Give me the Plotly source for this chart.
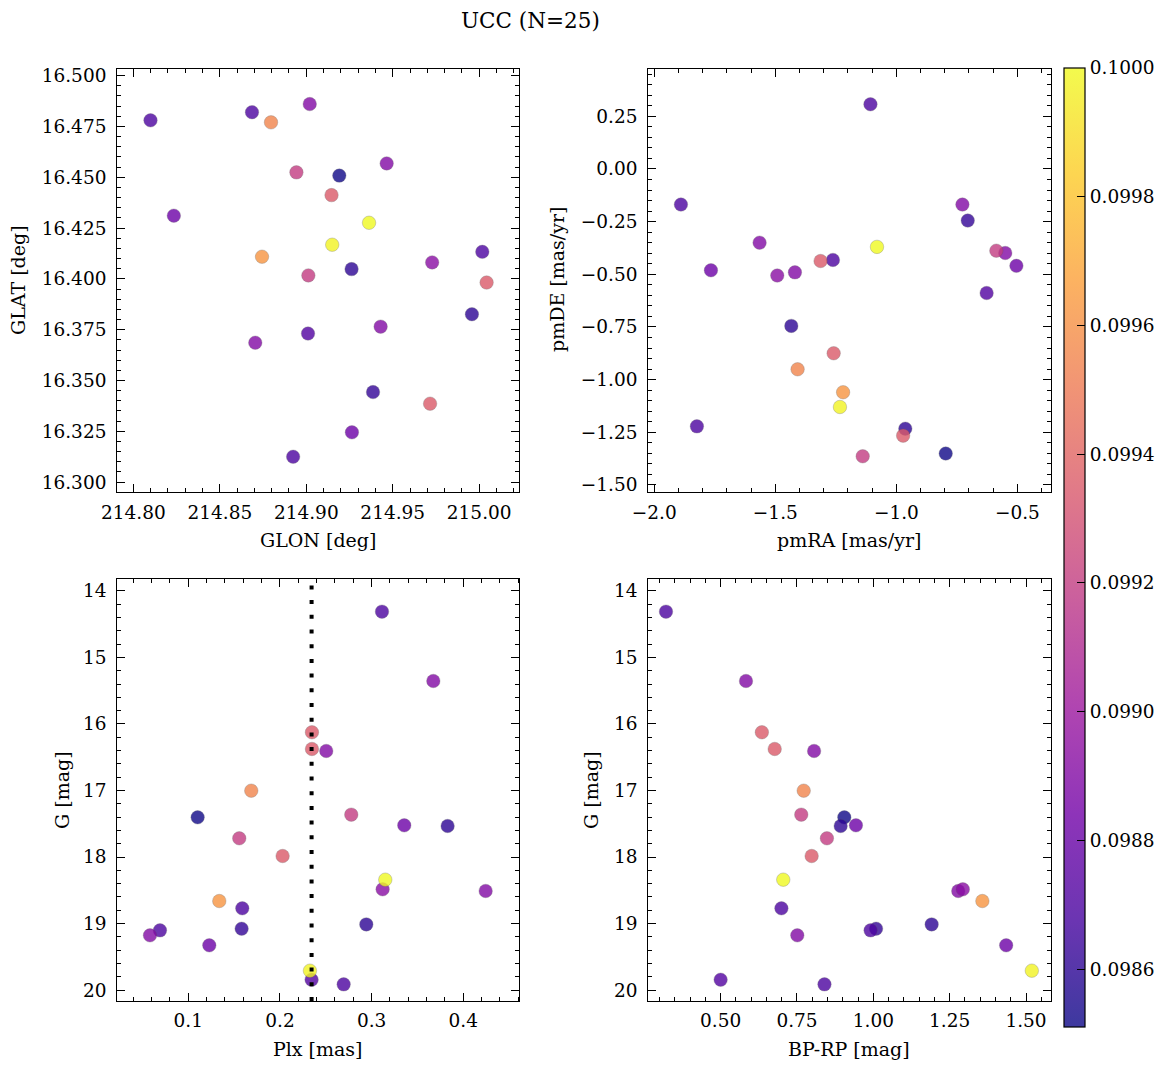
import numpy as np
import plotly.graph_objects as go

# ---------------- data (one entry per star) ----------------
glon = [214.8099, 214.9020, 214.9146, 215.0043, 214.9465, 214.8796, 214.9191, 214.8943,
        214.8234, 214.9262, 214.9012, 214.9716, 214.9363, 214.9728, 214.9430, 214.8744,
        214.8686, 214.9958, 215.0018, 214.8705, 214.9386, 214.9264, 214.9150, 214.9010,
        214.8924]
glat = [16.4780, 16.4860, 16.4412, 16.3982, 16.4568, 16.4770, 16.4508, 16.4524,
        16.4311, 16.4048, 16.4017, 16.3386, 16.4276, 16.4081, 16.3765, 16.4109,
        16.4820, 16.3826, 16.4133, 16.3686, 16.3443, 16.3245, 16.4168, 16.3731,
        16.3125]
pmra = [-1.107, -0.727, -1.313, -1.259, -1.565, -1.408, -0.796, -0.587,
        -1.766, -1.434, -1.139, -0.972, -1.080, -1.492, -1.419, -1.220,
        -1.890, -0.963, -1.262, -0.550, -0.705, -0.504, -1.233, -0.627,
        -1.824]
pmde = [0.307, -0.169, -0.437, -0.875, -0.350, -0.951, -1.351, -0.388,
        -0.481, -0.745, -1.364, -1.266, -0.370, -0.506, -0.491, -1.060,
        -0.169, -1.233, -0.432, -0.399, -0.245, -0.460, -1.130, -0.589,
        -1.222]
plx = [0.3113, 0.3673, 0.2349, 0.2349, 0.2505, 0.1687, 0.1102, 0.2778,
       0.3356, 0.3829, 0.1556, 0.2029, 0.3149, 0.3120, 0.4244, 0.1338,
       0.1589, 0.2942, 0.0691, 0.0582, 0.1582, 0.1229, 0.2327, 0.2345,
       0.2695]
gmag = [14.311, 15.354, 16.125, 16.376, 16.406, 17.003, 17.404, 17.363,
        17.524, 17.534, 17.719, 17.985, 18.341, 18.486, 18.511, 18.662,
        18.772, 19.013, 19.103, 19.178, 19.078, 19.328, 19.709, 19.845,
        19.915]
bprp = [0.321, 0.583, 0.635, 0.677, 0.806, 0.772, 0.905, 0.764,
        0.943, 0.893, 0.848, 0.798, 0.705, 1.293, 1.278, 1.357,
        0.699, 1.191, 0.991, 0.751, 1.009, 1.435, 1.519, 0.500,
        0.840]
prob = [0.09870, 0.09890, 0.09935, 0.09935, 0.09890, 0.09955, 0.09852, 0.09920,
        0.09882, 0.09860, 0.09920, 0.09935, 0.10000, 0.09893, 0.09890, 0.09962,
        0.09870, 0.09860, 0.09870, 0.09890, 0.09862, 0.09882, 0.09998, 0.09872,
        0.09870]
plx_median = 0.2345
n_members = 25

cb_ticks = [0.0986, 0.0988, 0.0990, 0.0992, 0.0994, 0.0996, 0.0998, 0.1000]
cmin, cmax = 0.09851, 0.1000

# ---------------- styling ----------------
W, H = 1173, 1068
OFF = 8          # page body margin of the html page
FONT = "DejaVu Serif"
FS = 18.5        # tick labels
FS_LAB = 19      # axis titles
FS_TTL = 21.5    # suptitle

plasma = ['#0d0887', '#46039f', '#7201a8', '#9c179e', '#bd3786',
          '#d8576b', '#ed7953', '#fb9f3a', '#fdca26', '#f0f921']

def fade(hexc, a=0.8):
    r, g, b = int(hexc[1:3], 16), int(hexc[3:5], 16), int(hexc[5:7], 16)
    f = lambda c: int(round(c * a + 255 * (1 - a)))
    return f"rgb({f(r)},{f(g)},{f(b)})"

plasma_scale = [[i / (len(plasma) - 1), c] for i, c in enumerate(plasma)]
faded_scale = [[i / (len(plasma) - 1), fade(c)] for i, c in enumerate(plasma)]

order = np.argsort(np.array(prob), kind="stable")
def srt(a):
    return np.array(a)[order]

def fx(p):
    return (p - OFF) / W

def fy(p):
    return 1 - (p - OFF) / H

# panel geometry in reference pixels (left, right, top, bottom)
px_panels = {
    1: (117.3, 519.3, 69.3, 492.3),
    2: (648.3, 1050.7, 69.3, 492.3),
    3: (117.3, 519.3, 579.3, 1001.0),
    4: (648.3, 1050.7, 579.3, 1001.0),
}

fig = go.Figure()

panels = [
    (1, glon, glat),
    (2, pmra, pmde),
    (3, plx, gmag),
    (4, bprp, gmag),
]
for k, xs, ys in panels:
    sfx = "" if k == 1 else str(k)
    fig.add_trace(go.Scatter(
        x=srt(xs), y=srt(ys), mode="markers",
        xaxis="x" + sfx, yaxis="y" + sfx,
        marker=dict(size=13.5, color=srt(prob), colorscale=plasma_scale,
                    cmin=cmin, cmax=cmax, opacity=0.8,
                    line=dict(color="rgba(90,90,90,0.55)", width=0.6)),
        showlegend=False, hoverinfo="x+y",
    ))

# colorbar carrier (invisible marker, faded palette like the alpha'd scatter)
fig.add_trace(go.Scatter(
    x=[glon[0]], y=[glat[0]], mode="markers", xaxis="x", yaxis="y",
    marker=dict(size=1, opacity=0, color=[prob[0]], colorscale=faded_scale,
                cmin=cmin, cmax=cmax, showscale=True,
                colorbar=dict(
                    x=fx(1064), xanchor="left", xref="paper",
                    y=fy((68 + 1027) / 2), yanchor="middle", yref="paper",
                    lenmode="pixels", len=959, thicknessmode="pixels", thickness=21,
                    outlinecolor="black", outlinewidth=1.2,
                    tickvals=cb_ticks, tickformat=".4f", tickprefix="\u00a0\u00a0",
                    ticks="inside", ticklen=8, tickcolor="black",
                    tickfont=dict(family=FONT, size=FS, color="black"),
                    xpad=0, ypad=0,
                )),
    showlegend=False, hoverinfo="skip",
))

def axis(domain, rng, dtick, minor_dtick, fmt, standoff, reverse=False):
    r = list(rng)[::-1] if reverse else list(rng)
    return dict(
        domain=domain, range=r, autorange=False, dtick=dtick, tick0=0,
        tickformat=fmt, showgrid=False, zeroline=False,
        showline=True, linecolor="black", linewidth=1.3, mirror="allticks",
        ticks="inside", ticklen=8, tickwidth=1.1, tickcolor="black",
        minor=dict(ticks="inside", dtick=minor_dtick, ticklen=4, tickwidth=1,
                   tickcolor="black", showgrid=False),
        tickfont=dict(family=FONT, size=FS, color="black"),
        ticklabelstandoff=standoff, automargin=False,
    )

def dom(k):
    l, r, t, b = px_panels[k]
    return [fx(l), fx(r)], [fy(b), fy(t)]

d1x, d1y = dom(1); d2x, d2y = dom(2); d3x, d3y = dom(3); d4x, d4y = dom(4)

SX, SY = 3, 6
fig.update_layout(
    width=W, height=H,
    margin=dict(l=0, r=0, t=0, b=0),
    paper_bgcolor="white", plot_bgcolor="white",
    font=dict(family=FONT, size=FS, color="black"),
    xaxis=axis(d1x, (214.7907, 215.0232), 0.05, 0.01, ".2f", SX),
    yaxis=axis(d1y, (16.2950, 16.5031), 0.025, 0.005, ".3f", SY),
    xaxis2=axis(d2x, (-2.0248, -0.3623), 0.5, 0.1, ".1f", SX),
    yaxis2=axis(d2y, (-1.535, 0.473), 0.25, 0.05, ".2f", SY),
    xaxis3=axis(d3x, (0.02255, 0.4611), 0.1, 0.02, ".1f", SX),
    yaxis3=axis(d3y, (13.825, 20.165), 1, 0.2, "d", SY, reverse=True),
    xaxis4=axis(d4x, (0.2631, 1.5808), 0.25, 0.05, ".2f", SX),
    yaxis4=axis(d4y, (13.825, 20.165), 1, 0.2, "d", SY, reverse=True),
)
for ax in ["xaxis", "yaxis", "xaxis2", "yaxis2", "xaxis3", "yaxis3", "xaxis4", "yaxis4"]:
    a = fig.layout[ax]
    nm = ax.replace("axis", "")
    a.anchor = ("y" if nm.startswith("x") else "x") + nm[1:]

# median parallax line
fig.add_shape(type="line", xref="x3", yref="y3 domain",
              x0=plx_median, x1=plx_median, y0=0, y1=1,
              line=dict(color="black", width=4, dash="4px,10.7px"), layer="above")

# titles
def ann(text, xpx, ypx, angle=0, size=FS_LAB):
    fig.add_annotation(text=text, x=fx(xpx), y=fy(ypx), xref="paper", yref="paper",
                       xanchor="center", yanchor="middle", showarrow=False,
                       textangle=angle, font=dict(family=FONT, size=size, color="black"))

ann(f"UCC (N={n_members})", 530, 20, size=FS_TTL)
ann("GLON [deg]", 318, 540)
ann("pmRA [mas/yr]", 849, 540)
ann("Plx [mas]", 318, 1049)
ann("BP-RP [mag]", 849, 1049)
ann("GLAT [deg]", 18, 280, -90)
ann("pmDE [mas/yr]", 557, 280, -90)
ann("G [mag]", 62, 790, -90)
ann("G [mag]", 591, 790, -90)

fig.write_html("out.html")
